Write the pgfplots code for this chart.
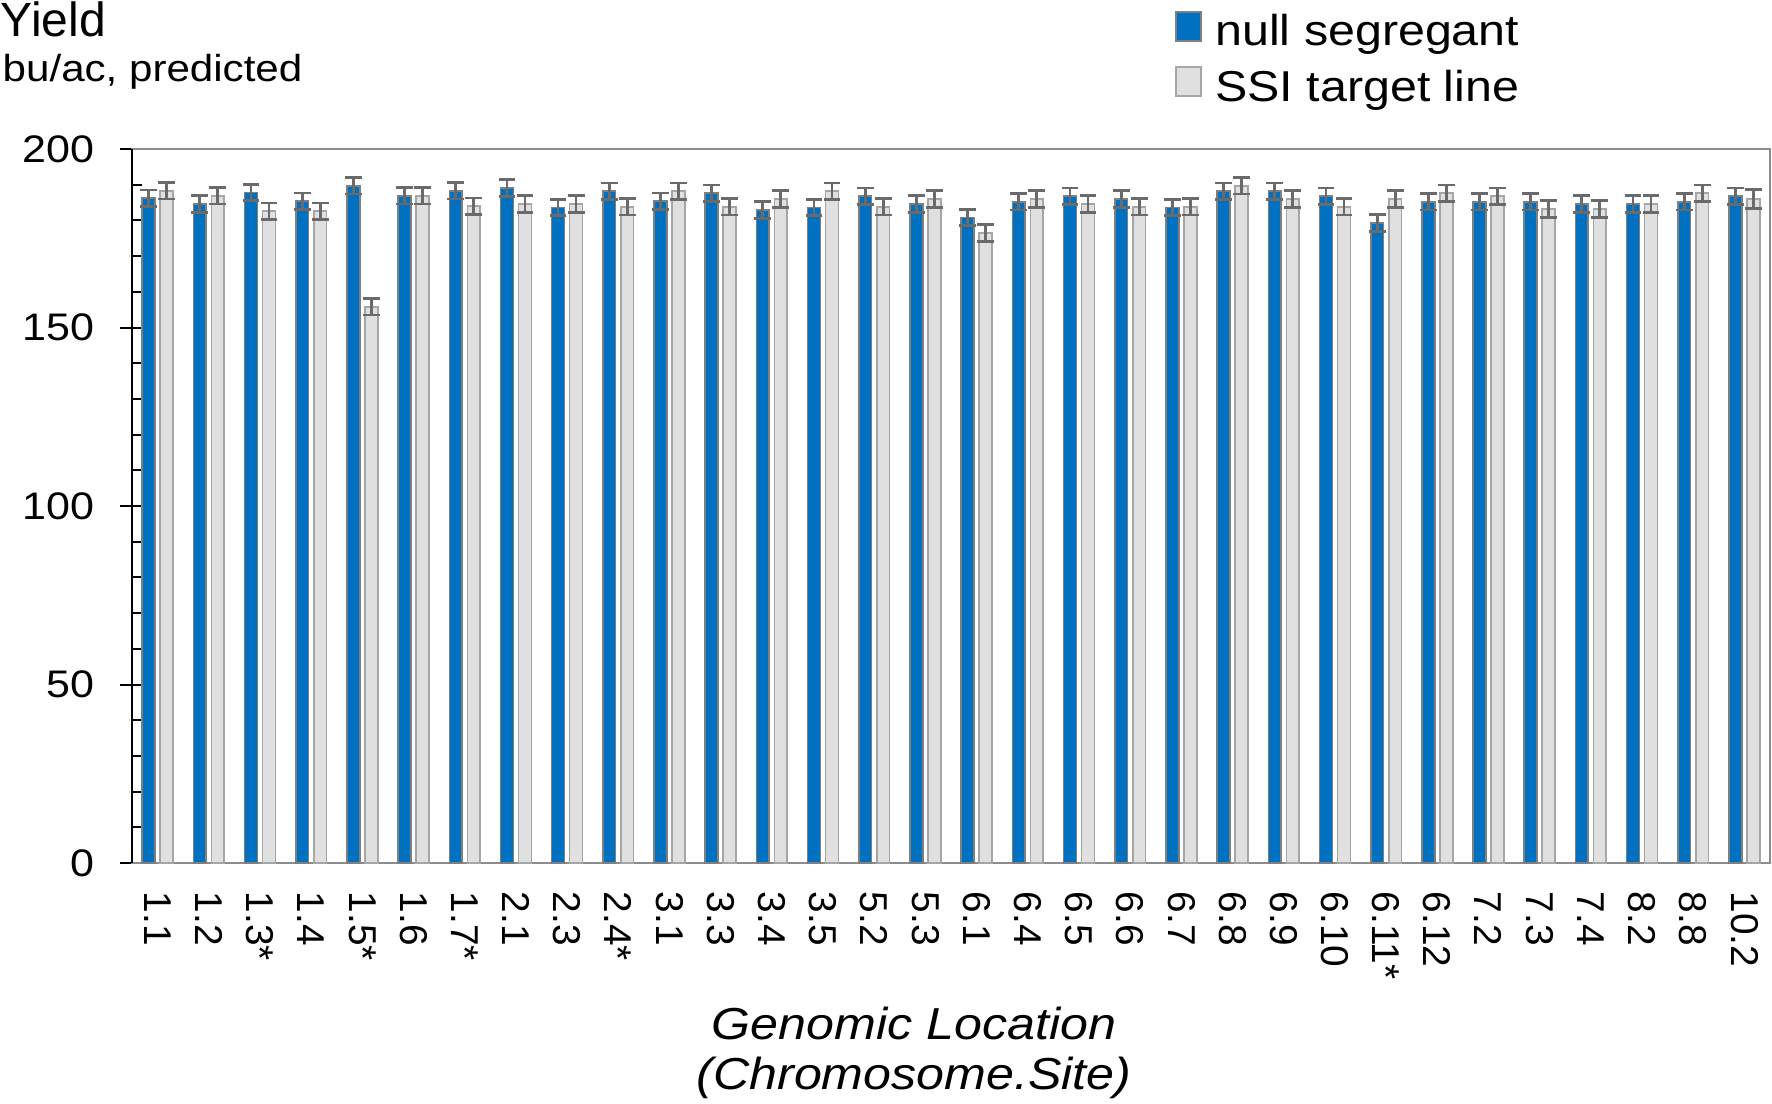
\documentclass[border=0pt]{standalone}
\usepackage{fontspec}
\setmainfont{Liberation Sans}[FakeStretch=1.12]
\newfontfamily\plainfont{Liberation Sans}
\usepackage{pgfplots}
\usepackage{pgfplotstable}
\pgfplotsset{compat=1.18}

\definecolor{nullblue}{HTML}{0070C0}
\definecolor{ssigray}{HTML}{E0E0E0}
\definecolor{ssiedge}{HTML}{A6A6A6}
\definecolor{bluedge}{HTML}{7F7F7F}
\definecolor{errgray}{HTML}{6A6A6A}
\definecolor{framegray}{HTML}{8C8C8C}

\pgfplotsset{
  sqlegend/.style={legend image code/.code={\draw[##1, line width=0.6pt] (0pt,-1.9pt) rectangle (6.25pt,5.35pt);}},
  errstyle/.style={error bars/.cd, y dir=both, y explicit, error mark=|,
    error bar style={errgray, line width=0.7pt},
    error mark options={errgray, line width=0.7pt, mark size=2.1pt}},
}

% x = site index, nv/ne = null segregant mean/err, sv/se = SSI target line mean/err
\pgfplotstableread{
x  nv    ne   sv    se
0  186.2 2.3  188.3 2.3
1  184.6 2.3  186.9 2.3
2  187.8 2.3  182.6 2.3
3  185.4 2.3  182.6 2.3
4  189.7 2.3  155.8 2.3
5  186.9 2.3  186.9 2.3
6  188.3 2.3  184.0 2.3
7  189.1 2.3  184.6 2.3
8  183.6 2.3  184.6 2.3
9  188.2 2.3  183.8 2.3
10 185.4 2.3  188.2 2.3
11 187.6 2.3  183.8 2.3
12 182.9 2.3  186.0 2.3
13 183.6 2.3  188.2 2.3
14 186.8 2.3  183.8 2.3
15 184.6 2.3  186.0 2.3
16 180.8 2.3  176.5 2.3
17 185.2 2.3  186.0 2.3
18 186.8 2.3  184.6 2.3
19 186.0 2.3  183.8 2.3
20 183.6 2.3  183.8 2.3
21 188.2 2.3  189.7 2.3
22 188.2 2.3  186.0 2.3
23 186.8 2.3  183.8 2.3
24 179.3 2.3  186.0 2.3
25 185.2 2.3  187.6 2.3
26 185.2 2.3  186.8 2.3
27 185.2 2.3  183.2 2.3
28 184.6 2.3  183.2 2.3
29 184.6 2.3  184.6 2.3
30 185.2 2.3  187.6 2.3
31 186.8 2.3  186.0 2.6
}\yielddata

\begin{document}
\begin{tikzpicture}
\path[use as bounding box] (-33pt,-60pt) rectangle (410pt,215.75pt);
\begin{axis}[
  scale only axis,
  width=409.5pt, height=178.5pt,
  ybar=1.3pt, bar width=3.2pt,
  xmin=-0.5, xmax=31.5, ymin=0, ymax=200,
  xtick=data,
  xticklabels={1.1,1.2,1.3*,1.4,1.5*,1.6,1.7*,2.1,2.3,2.4*,3.1,3.3,3.4,3.5,5.2,5.3,6.1,6.4,6.5,6.6,6.7,6.8,6.9,6.10,6.11*,6.12,7.2,7.3,7.4,8.2,8.8,10.2},
  x tick style={draw=none},
  ytick={0,50,...,200}, minor y tick num=4,
  ytick pos=left,
  tick align=center,
  major tick length=6pt, minor tick length=2.5pt,
  y tick style={black, line width=0.5pt},
  minor y tick style={xshift=1.25pt},
  axis line style={framegray, line width=0.35pt},
  /pgf/number format/assume math mode=true,
  yticklabel style={font=\fontsize{9.6}{11}\selectfont, inner sep=0pt, xshift=-6.3pt},
  xticklabel style={font=\plainfont\fontsize{9.7}{11}\selectfont, rotate=-90, anchor=west, inner sep=0pt},
  xticklabel shift=4pt,
  every axis y label/.style={at={(axis description cs:-0.0806,1.1569)}, anchor=base west, inner sep=0pt, font=\plainfont\fontsize{12}{14}\selectfont},
  ylabel={Yield},
  every axis x label/.style={at={(axis description cs:0.4774,-0.2012)}, anchor=north, align=center, inner sep=0pt, font=\itshape\fontsize{11.2}{12.5}\selectfont},
  xlabel={Genomic Location\\(Chromosome.Site)},
  legend style={at={(axis description cs:0.6361,1.1950)}, anchor=north west, draw=none, fill=none,
    font=\fontsize{10.8}{12}\selectfont, inner sep=0pt, row sep=3.5pt,
    nodes={inner xsep=3.3pt, inner ysep=0pt}},
  legend cell align=left,
  clip=false,
]
\addplot[fill=nullblue, draw=bluedge, line width=0.4pt, sqlegend, errstyle]
  table[x=x, y=nv, y error=ne] {\yielddata};
\addlegendentry{null segregant}
\addplot[fill=ssigray, draw=ssiedge, line width=0.4pt, sqlegend, errstyle]
  table[x=x, y=sv, y error=se] {\yielddata};
\addlegendentry{SSI target line}
\draw[black, line width=0.5pt] (rel axis cs:0,0) -- (rel axis cs:0,1);
\node[anchor=base west, inner sep=0pt, font=\fontsize{9.4}{11}\selectfont] at (axis description cs:-0.0794,1.0941) {bu/ac, predicted};
\end{axis}
\end{tikzpicture}
\end{document}
